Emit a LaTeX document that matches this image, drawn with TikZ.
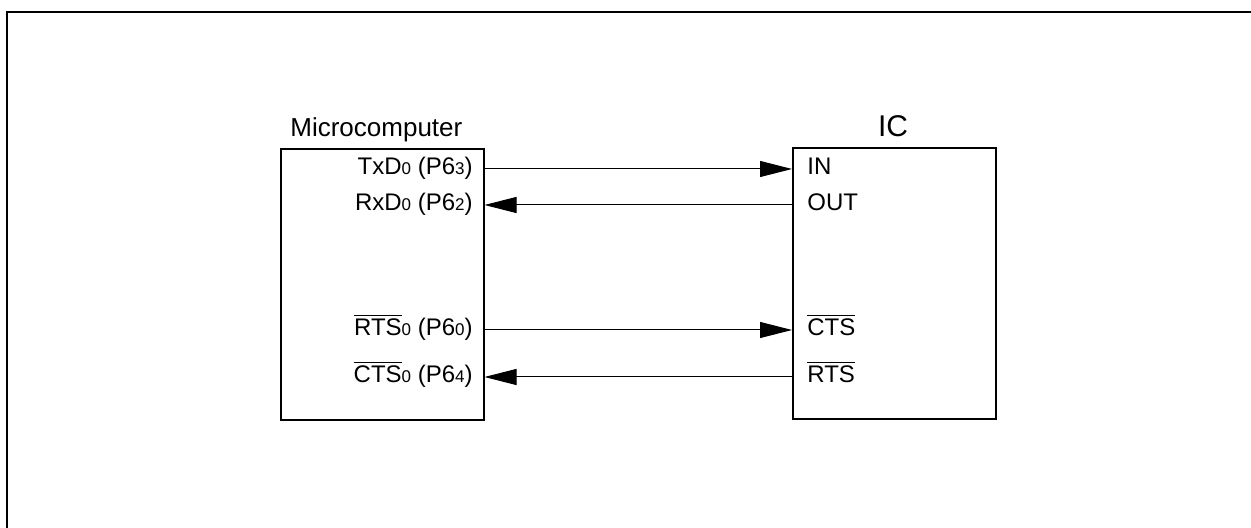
\documentclass[tikz,border=0pt]{standalone}
\usepackage{fontspec}
\setmainfont{Liberation Sans}
\usetikzlibrary{arrows.meta}
\definecolor{LineBlack}{HTML}{000000}
\definecolor{BarGrey}{HTML}{555555}
\newcommand{\pinsub}[1]{{\fontsize{8.5}{10}\selectfont #1}}
\newcommand{\pinbar}[1]{$\overline{\hbox{#1}}$}

\begin{document}
\begin{tikzpicture}[x=0.5pt,y=-0.5pt,
  chip/.style={draw=LineBlack,line width=1pt,minimum width=101.5pt,minimum height=135.5pt,inner sep=0pt},
  sig/.style={draw=LineBlack,line width=0.5pt,-{Triangle[length=16pt,width=8pt]}},
  pinleft/.style={anchor=mid east,inner sep=0pt,font=\fontsize{12}{14}\selectfont},
  pinright/.style={anchor=mid west,inner sep=0pt,font=\fontsize{12}{14}\selectfont}]
\useasboundingbox (0,0) rectangle (1251,528);
% outer frame
\draw[line width=1.25pt] (7,528) -- (7,12) -- (1251,12);
% the two chips
\node[chip] (mcu) at (382,285) {};
\node[chip] (ic) at (894.5,284) {};
\node[anchor=base west,inner sep=0pt,font=\fontsize{13}{15}\selectfont] (mcu-title) at (290,137) {Microcomputer};
\node[anchor=base,inner sep=0pt,font=\fontsize{15}{17}\selectfont] (ic-title) at (893,137) {IC};
% pin points on the chip edges
\coordinate (mcu-txd) at (mcu.east |- 0,169);
\coordinate (mcu-rxd) at (mcu.east |- 0,205);
\coordinate (mcu-rts) at (mcu.east |- 0,330);
\coordinate (mcu-cts) at (mcu.east |- 0,377);
\coordinate (ic-in) at (ic.west |- 0,169);
\coordinate (ic-out) at (ic.west |- 0,205);
\coordinate (ic-cts) at (ic.west |- 0,330);
\coordinate (ic-rts) at (ic.west |- 0,377);
% pin names
\node[pinleft] (l-txd) at (473,169) {TxD\pinsub{0} (P6\pinsub{3})};
\node[pinleft] (l-rxd) at (473,205) {RxD\pinsub{0} (P6\pinsub{2})};
\node[pinleft] (l-rts) at (473,330) {\pinbar{RTS}\pinsub{0} (P6\pinsub{0})};
\node[pinleft] (l-cts) at (473,377) {\pinbar{CTS}\pinsub{0} (P6\pinsub{4})};
\node[pinright] (r-in) at (807,169) {IN};
\node[pinright] (r-out) at (807,205) {OUT};
\node[pinright] (r-cts) at (807,330) {\pinbar{CTS}};
\node[pinright] (r-rts) at (807,377) {\pinbar{RTS}};
% signals
\draw[sig] (mcu-txd) -- (ic-in);
\draw[sig] (ic-out) -- (mcu-rxd);
\draw[sig] (mcu-rts) -- (ic-cts);
\draw[sig] (ic-rts) -- (mcu-cts);
\end{tikzpicture}
\end{document}
